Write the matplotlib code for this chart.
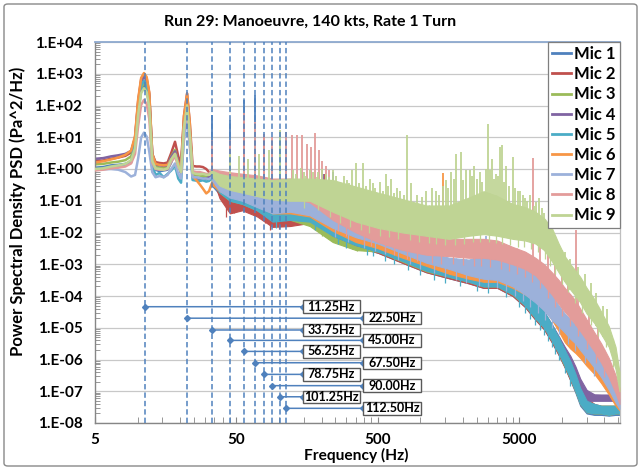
import numpy as np
import matplotlib
matplotlib.use('Agg')
import matplotlib.pyplot as plt
from matplotlib.lines import Line2D
from matplotlib.patches import Rectangle, FancyBboxPatch
import matplotlib.transforms as mtransforms
from matplotlib.ticker import FixedLocator, FuncFormatter, NullFormatter

plt.rcParams['font.family'] = ['Lato', 'DejaVu Sans']
plt.rcParams['font.weight'] = 'bold'

# ---------------- data ----------------
MIC_NAMES = ['Mic 1', 'Mic 2', 'Mic 3', 'Mic 4', 'Mic 5', 'Mic 6', 'Mic 7', 'Mic 8', 'Mic 9']
COLORS = ['#4F81BD', '#C0504D', '#9BBB59', '#8064A2', '#4BACC6', '#F79646', '#9CB1DA', '#E39C9A', '#BFD494']

# low-frequency (smooth) part of each spectrum
LF_F = [5, 5.7, 6.5, 7.3, 8.2, 9.0, 9.6, 10.1, 10.6, 11.1, 11.6, 12.1, 12.7, 13.4, 14.3, 15.3,
        16.3, 17.3, 18.4, 19.4, 20.3, 21.3, 22.4, 23.4, 24.5, 26, 27.5, 29, 30.6, 32, 33.5]
mic1_lf = [1.10, 1.15, 1.30, 1.35, 1.45, 1.7, 5, 63, 290, 420, 315, 105, 2.0, 0.95, 0.85, 0.9,
           0.95, 1.6, 3.2, 1.4, 0.7, 24, 120, 14, 0.6, 0.55, 0.5, 0.52, 0.48, 0.45, 0.6]
mic2_lf = [1.75, 1.85, 2.1, 2.3, 2.6, 3.3, 10, 140, 660, 950, 710, 240, 3.0, 1.65, 1.55, 1.5,
           1.6, 3.2, 7.2, 2.5, 1.5, 48, 240, 29, 1.25, 1.2, 1.2, 1.15, 1.0, 0.8, 0.7]
mic3_lf = [1.4, 1.45, 1.6, 1.7, 1.9, 2.5, 6, 78, 360, 520, 390, 130, 2.2, 1.2, 1.1, 1.05,
           1.2, 2.5, 4.0, 1.6, 0.9, 26, 130, 16, 0.7, 0.65, 0.62, 0.6, 0.58, 0.55, 0.6]
mic4_lf = [2.1, 2.2, 2.5, 2.7, 3.0, 3.7, 9, 120, 560, 800, 600, 200, 3.0, 1.4, 1.3, 1.25,
           1.3, 2.4, 3.6, 1.8, 1.0, 32, 160, 19, 0.55, 0.5, 0.5, 0.48, 0.5, 0.55, 0.6]
mic5_lf = [1.0, 1.05, 1.15, 1.2, 1.3, 1.6, 6, 90, 420, 600, 450, 150, 1.3, 0.65, 0.75, 0.55,
           0.7, 0.9, 1.3, 0.5, 0.37, 12, 60, 7, 0.45, 0.43, 0.42, 0.44, 0.4, 0.42, 0.5]
mic6_lf = [1.6, 1.75, 2.0, 2.3, 2.8, 3.8, 11, 160, 740, 1050, 790, 260, 3.0, 1.45, 1.35, 1.3,
           1.35, 2.0, 3.0, 1.6, 1.0, 46, 230, 28, 0.6, 0.45, 0.33, 0.24, 0.17, 0.2, 0.35]
mic7_lf = [0.95, 0.98, 1.0, 0.95, 0.8, 0.58, 0.65, 2.2, 9.8, 14, 10.5, 3.5, 0.8, 0.55, 0.6, 0.55,
           0.65, 1.0, 1.5, 0.7, 0.5, 8, 40, 5, 0.55, 0.55, 0.52, 0.5, 0.5, 0.48, 0.55]
mic8_lf = [0.9, 0.95, 1.05, 1.1, 1.2, 1.5, 3.0, 23, 105, 150, 112, 38, 1.6, 1.0, 0.95, 0.95,
           1.0, 1.7, 2.5, 1.2, 0.8, 18, 90, 11, 0.85, 0.8, 0.8, 0.75, 0.7, 0.7, 0.9]
mic9_lf = [1.0, 1.05, 1.2, 1.3, 1.45, 1.9, 4.5, 52, 245, 350, 262, 88, 1.8, 1.05, 1.0, 0.95,
           1.05, 2.0, 3.0, 1.3, 0.8, 20, 100, 12, 0.75, 0.7, 0.68, 0.7, 0.66, 0.65, 0.8]

# noisy part: lower / upper envelope of each spectrum
BAND_F = [33.5, 38, 45, 55, 70, 90, 120, 165, 240, 350, 500, 750, 1100, 1600, 2200, 2800, 3500,
          4500, 5500, 6500, 7500, 8500, 9500, 10500, 11500, 12500, 13500, 15000, 17000, 19000,
          21500, 24000, 25600]
mic1_lo = [0.3, 0.16, 0.09, 0.07, 0.045, 0.018, 0.02, 0.02, 7e-3, 3.6e-3, 2.3e-3, 1.1e-3, 5.6e-4,
           3.6e-4, 2.5e-4, 1.8e-4, 1.8e-4, 1.0e-4, 4.5e-5, 1.8e-5, 8.9e-6, 3.5e-6, 1.4e-6, 5.6e-7,
           2.2e-7, 8.9e-8, 3.5e-8, 2.0e-8, 1.8e-8, 1.8e-8, 1.7e-8, 1.8e-8, 1.8e-8]
mic1_hi = [0.5, 0.4, 0.3, 0.22, 0.14, 0.08, 0.08, 0.065, 0.022, 0.01, 5.6e-3, 2.8e-3, 1.4e-3,
           9e-4, 5.6e-4, 4e-4, 4e-4, 2.5e-4, 1.26e-4, 5.6e-5, 2.8e-5, 1.12e-5, 4.5e-6, 1.8e-6,
           7.9e-7, 3.2e-7, 1.12e-7, 4.5e-8, 3.5e-8, 3.2e-8, 3.2e-8, 3.2e-8, 3.2e-8]
mic2_lo = [0.6, 0.12, 0.04, 0.05, 0.032, 0.015, 0.016, 0.02, 7e-3, 3.6e-3, 2.3e-3, 1.1e-3, 5.6e-4,
           3.6e-4, 2.5e-4, 1.8e-4, 1.8e-4, 1.0e-4, 4.5e-5, 1.8e-5, 8.9e-6, 3.5e-6, 1.4e-6, 5.6e-7,
           2.2e-7, 1.0e-7, 4.0e-8, 2.2e-8, 2.0e-8, 2.0e-8, 1.8e-8, 2.0e-8, 2.0e-8]
mic2_hi = [0.8, 0.5, 0.25, 0.2, 0.13, 0.08, 0.08, 0.065, 0.022, 0.01, 5.6e-3, 2.8e-3, 1.4e-3,
           9e-4, 5.6e-4, 4e-4, 4e-4, 2.5e-4, 1.26e-4, 5.6e-5, 2.8e-5, 1.12e-5, 4.5e-6, 1.8e-6,
           1.0e-6, 5e-7, 2e-7, 6e-8, 4e-8, 3.5e-8, 3.5e-8, 3.5e-8, 3.5e-8]
mic3_lo = [0.4, 0.18, 0.1, 0.08, 0.05, 0.025, 0.025, 0.016, 5e-3, 2.8e-3, 2.5e-3, 1.2e-3, 6e-4,
           4e-4, 2.8e-4, 2e-4, 2e-4, 1.1e-4, 5e-5, 2e-5, 1e-5, 4e-6, 1.6e-6, 6e-7, 2.5e-7, 1e-7,
           4e-8, 2.2e-8, 2e-8, 2e-8, 1.8e-8, 2e-8, 2e-8]
mic3_hi = [0.6, 0.45, 0.35, 0.28, 0.18, 0.1, 0.09, 0.06, 0.02, 9e-3, 6e-3, 3e-3, 1.5e-3, 9e-4,
           6e-4, 4.2e-4, 4.2e-4, 2.6e-4, 1.3e-4, 6e-5, 3e-5, 1.2e-5, 4.5e-6, 1.8e-6, 8e-7, 3.2e-7,
           1.2e-7, 4.5e-8, 3.8e-8, 3.5e-8, 3.5e-8, 3.5e-8, 3.5e-8]
mic4_lo = [0.5, 0.3, 0.2, 0.15, 0.08, 0.03, 0.03, 0.025, 8e-3, 4e-3, 2.6e-3, 1.3e-3, 6.5e-4,
           4.2e-4, 3e-4, 2.1e-4, 2.1e-4, 1.2e-4, 5.5e-5, 2.2e-5, 1.1e-5, 4.5e-6, 1.8e-6, 7e-7,
           3e-7, 1.4e-7, 7e-8, 5e-8, 5e-8, 5e-8, 5e-8, 5e-8, 4.5e-8]
mic4_hi = [0.7, 0.63, 0.6, 0.5, 0.3, 0.14, 0.1, 0.08, 0.025, 0.011, 6.3e-3, 3.2e-3, 1.6e-3, 1e-3,
           6.3e-4, 4.5e-4, 4.5e-4, 2.8e-4, 1.4e-4, 6.3e-5, 3.2e-5, 1.3e-5, 5.5e-6, 2.5e-6, 1.3e-6,
           6e-7, 2.5e-7, 1.1e-7, 8e-8, 7.9e-8, 7.9e-8, 7e-8, 6.3e-8]
mic5_lo = [0.35, 0.18, 0.1, 0.079, 0.05, 0.022, 0.025, 0.022, 7.9e-3, 4.0e-3, 2.5e-3, 1.26e-3,
           6.3e-4, 4.0e-4, 2.8e-4, 2.0e-4, 2.0e-4, 1.12e-4, 5.0e-5, 2.0e-5, 1.0e-5, 4.0e-6,
           1.6e-6, 6.3e-7, 2.5e-7, 1.0e-7, 4.0e-8, 2.2e-8, 2.0e-8, 2.0e-8, 1.8e-8, 2.0e-8, 2.0e-8]
mic5_hi = [0.5, 0.45, 0.32, 0.25, 0.16, 0.089, 0.089, 0.071, 0.025, 0.0112, 6.3e-3, 3.2e-3,
           1.6e-3, 1.0e-3, 6.3e-4, 4.5e-4, 4.5e-4, 2.8e-4, 1.4e-4, 6.3e-5, 3.2e-5, 1.26e-5,
           5.0e-6, 2.0e-6, 8.9e-7, 3.5e-7, 1.26e-7, 5.0e-8, 4.0e-8, 3.5e-8, 3.5e-8, 3.5e-8, 3.5e-8]
mic6_lo = [0.32, 0.2, 0.15, 0.12, 0.071, 0.04, 0.04, 0.032, 0.0112, 5e-3, 3.2e-3, 1.6e-3, 8.9e-4,
           5e-4, 3.5e-4, 2.8e-4, 2.8e-4, 1.8e-4, 1.12e-4, 7.1e-5, 4e-5, 1.8e-5, 7.9e-6, 3.5e-6,
           2.2e-6, 1.6e-6, 1.12e-6, 6.3e-7, 3.5e-7, 1.8e-7, 7.9e-8, 3.5e-8, 2.5e-8]
mic6_hi = [0.45, 0.5, 0.55, 0.45, 0.3, 0.16, 0.126, 0.089, 0.032, 0.014, 7.9e-3, 4e-3, 2e-3,
           1.26e-3, 7.9e-4, 6.3e-4, 6.3e-4, 4.5e-4, 2.5e-4, 1.6e-4, 1e-4, 4.5e-5, 2e-5, 8.9e-6,
           5e-6, 3.5e-6, 2.5e-6, 1.4e-6, 7.9e-7, 4e-7, 1.8e-7, 7.9e-8, 5e-8]
mic7_lo = [0.45, 0.2, 0.126, 0.1, 0.063, 0.04, 0.045, 0.035, 0.014, 7.1e-3, 4.5e-3, 2.2e-3,
           1.12e-3, 7.1e-4, 4.5e-4, 3.5e-4, 3.2e-4, 2e-4, 1.12e-4, 6.3e-5, 3.5e-5, 1.8e-5,
           1.12e-5, 7.1e-6, 4.5e-6, 3.2e-6, 2e-6, 1.12e-6, 5.6e-7, 2.8e-7, 1.12e-7, 4.5e-8, 2.8e-8]
mic7_hi = [0.63, 0.5, 0.4, 0.32, 0.25, 0.14, 0.14, 0.1, 0.035, 0.018, 0.0112, 5e-3, 2.5e-3,
           1.6e-3, 1.4e-3, 2e-3, 1.6e-3, 1.12e-3, 7.1e-4, 4.5e-4, 2.2e-4, 1.12e-4, 5e-5, 2.8e-5,
           1.8e-5, 1.26e-5, 7.9e-6, 4e-6, 1.8e-6, 7.9e-7, 3.2e-7, 1.12e-7, 5.6e-8]
mic8_lo = [0.71, 0.35, 0.25, 0.22, 0.18, 0.14, 0.126, 0.089, 0.025, 0.01, 5e-3, 2.8e-3, 2e-3,
           1.8e-3, 1.6e-3, 1.6e-3, 1.4e-3, 1e-3, 7.1e-4, 4.5e-4, 2.2e-4, 1.12e-4, 5.6e-5, 3.2e-5,
           2e-5, 1.26e-5, 7.9e-6, 4e-6, 1.8e-6, 7.9e-7, 2.8e-7, 8.9e-8, 4e-8]
mic8_hi = [1.0, 0.89, 0.79, 0.71, 0.63, 0.5, 0.5, 0.32, 0.1, 0.045, 0.02, 0.0112, 7.9e-3, 6.3e-3,
           6.3e-3, 6.3e-3, 5.6e-3, 3.5e-3, 2.5e-3, 1.6e-3, 1e-3, 5.6e-4, 3.2e-4, 1.8e-4, 1.12e-4,
           7.1e-5, 4e-5, 1.8e-5, 7.1e-6, 3.2e-6, 1.12e-6, 3.2e-7, 1.26e-7]
mic9_lo = [0.6, 0.3, 0.22, 0.18, 0.14, 0.11, 0.1, 0.1, 0.045, 0.022, 0.014, 0.01, 7.9e-3,
           6.3e-3, 7.9e-3, 8.9e-3, 7.9e-3, 6.3e-3, 5.6e-3, 4.5e-3, 2.8e-3, 1.26e-3, 5.6e-4, 2.8e-4,
           1.6e-4, 1e-4, 6.3e-5, 2.8e-5, 1.4e-5, 6.3e-6, 2.5e-6, 5e-7, 1e-7]
mic9_hi = [0.9, 0.7, 0.6, 0.55, 0.5, 0.45, 0.5, 0.5, 0.45, 0.28, 0.18, 0.112, 0.071, 0.071,
           0.126, 0.2, 0.14, 0.079, 0.063, 0.045, 0.028, 0.014, 4.5e-3, 1.8e-3, 1e-3, 6.3e-4, 4e-4,
           1.8e-4, 7.9e-5, 3.2e-5, 1.12e-5, 2.5e-6, 4e-7]

# narrow tonal peaks (frequency, peak PSD) per microphone
mic1_pk_f = [33.75, 45, 56.25, 67.5, 90, 112.5, 240]
mic1_pk_v = [50, 35, 150, 215, 5, 10, 0.8]
mic2_pk_f = [33.75, 56.25, 78.75, 210]
mic2_pk_v = [3, 30, 10, 0.7]
mic3_pk_f = [33.75, 45]
mic3_pk_v = [2, 1.5]
mic4_pk_f = [205]
mic4_pk_v = [0.7]
mic5_pk_f = [67.5, 101.25]
mic5_pk_v = [20, 12]
mic6_pk_f = [165, 1450]
mic6_pk_v = [0.5, 0.75]
mic7_pk_f = [420, 430, 440, 2700, 2900, 3100]
mic7_pk_v = [0.1, 0.16, 0.12, 6e-3, 8e-3, 5e-3]
mic8_pk_f = [33.75, 45, 56.25, 67.5, 78.75, 90, 112.5, 123.75, 135, 146.25, 157.5, 168.75, 180,
             191.25, 202.5, 213.75, 225, 260, 300, 6250, 7000, 8000, 9000, 10000, 11000, 12660,
             13000, 15500, 18000]
mic8_pk_v = [8, 8, 60, 30, 13, 10, 15, 12, 12, 12, 6, 5, 14, 4, 1.8, 1.2, 0.9, 0.3, 0.15, 2.3,
             6e-3, 3e-3, 1.5e-3, 8e-4, 5e-4, 0.012, 2e-4, 8e-5, 3e-5]
mic9_pk_f = [45, 52, 60, 72, 85, 101.25, 125, 132, 142, 150, 155, 165, 175, 185, 190, 200, 215,
             225, 240, 255, 270, 290, 305, 315, 330, 350, 370, 394, 410, 440, 460, 480, 520, 545,
             570, 590, 620, 650, 680, 720, 760, 800, 860, 950, 1020, 1100, 1200, 1290, 1350, 1450,
             1530, 1580, 1650, 1720, 1800, 1950, 2000, 2100, 2235, 2300, 2400, 2500, 2650, 2750,
             2900, 3010, 3100, 3200, 3300, 3400, 3550, 3650, 3770, 3900, 4000, 4200, 4500, 4700,
             4900, 5100, 5300, 5500, 5700, 6000, 6400, 6600, 6900, 7200, 7500, 7940, 8200, 8800,
             9500, 10500, 11500, 13000, 14500, 16000, 17500, 19600, 21000]
mic9_pk_v = [3, 2.5, 2, 3, 4, 17, 0.9, 0.7, 1.1, 0.8, 0.6, 0.9, 0.8, 0.55, 0.8, 1.0, 0.7, 0.55,
             0.9, 0.6, 0.4, 0.6, 0.45, 0.35, 0.9, 1.6, 0.35, 1.5, 0.3, 0.5, 0.35, 0.25, 0.4, 0.2,
             0.7, 0.3, 0.5, 0.18, 0.25, 0.2, 0.15, 12, 0.35, 0.15, 0.13, 0.2, 0.25, 0.2, 0.15, 0.3,
             0.45, 0.25, 0.8, 0.5, 3.0, 3.4, 0.45, 0.9, 0.9, 0.6, 1.2, 0.5, 0.8, 0.4, 1.0, 27, 0.9,
             2.0, 0.5, 0.7, 0.6, 4.9, 5.5, 0.4, 1.2, 0.3, 2.4, 0.25, 0.2, 0.2, 0.15, 0.12, 0.1,
             0.15, 0.07, 0.09, 0.12, 0.06, 0.04, 0.02, 0.015, 8e-3, 4e-3, 2.5e-3, 1.5e-3, 8e-4,
             5e-4, 2.5e-4, 1.2e-4, 5e-5, 4e-5]

# downward excursions below the lower envelope
mic2_dip_f = [42, 48, 80, 86, 100]
mic2_dip_v = [0.03, 0.04, 0.02, 0.012, 0.013]
mic3_dip_f = [200, 215, 330, 355, 380]
mic3_dip_v = [8e-3, 7e-3, 3e-3, 2.6e-3, 2.8e-3]
mic5_dip_f = [95, 180, 260, 300, 420, 460, 560, 650, 820, 1000, 1250, 1500, 1900, 2500, 3000,
              4000, 5000, 5500, 6000, 6500, 7000, 7500, 8000, 8500, 9000, 9500, 10500, 11500]
mic5_dip_v = [0.014, 0.012, 4.5e-3, 3.3e-3, 2e-3, 1.8e-3, 1.3e-3, 1e-3, 6.6e-4, 4.5e-4, 3.3e-4,
              2.6e-4, 2e-4, 1.4e-4, 1.2e-4, 9e-5, 4.5e-5, 3e-5, 1.9e-5, 1.2e-5, 8.5e-6, 6e-6,
              3.8e-6, 2.4e-6, 1.5e-6, 9.6e-7, 3.8e-7, 1.5e-7]
mic7_dip_f = [250, 310, 400, 480, 560, 700, 850, 1000, 1250, 1500, 1800, 2100, 2600, 3000, 3500,
              4000, 4700, 5300, 6000, 6800, 7600, 8500, 9500, 11000, 12500, 14500, 17000]
mic7_dip_v = [7e-3, 5e-3, 3.3e-3, 2.6e-3, 2.1e-3, 1.4e-3, 1e-3, 7.2e-4, 5.2e-4, 4.1e-4, 3.3e-4,
              2.6e-4, 2.1e-4, 1.9e-4, 1.8e-4, 1.4e-4, 1e-4, 7e-5, 4.6e-5, 2.9e-5, 1.8e-5, 1e-5,
              6.2e-6, 3.1e-6, 1.8e-6, 7.7e-7, 3.1e-7]
mic8_dip_f = [260, 300, 400, 450, 560, 650, 800, 950, 1200, 1400, 1700, 2000, 2400, 2700, 3100,
              3700, 4200, 4800, 5500, 6200, 7000, 8000, 9000, 10000, 11500, 13000, 15000, 17500,
              20000]
mic8_dip_v = [0.011, 8e-3, 4.7e-3, 3.7e-3, 2.5e-3, 1.9e-3, 1.5e-3, 1.3e-3, 1.1e-3, 1e-3, 1e-3,
              9.4e-4, 8.8e-4, 8.8e-4, 8.3e-4, 7.2e-4, 6e-4, 5e-4, 3.9e-4, 2.8e-4, 1.8e-4, 8.8e-5,
              4.4e-5, 2.3e-5, 1.1e-5, 5.5e-6, 2.2e-6, 8e-7, 2.8e-7]
mic9_dip_f = [150, 190, 230, 270, 320, 380, 430, 520, 600, 700, 850, 980, 1150, 1300, 1500, 1750,
              2050, 2350, 2650, 3050, 3400, 3800, 4300, 4900, 5400, 6100, 6800, 7600, 8300, 9000,
              10000, 11000, 12500, 14000, 16000, 18000, 20500, 23000]
mic9_dip_v = [0.06, 0.05, 0.03, 0.02, 0.015, 0.012, 0.01, 8e-3, 7e-3, 6.3e-3, 5.6e-3, 5e-3,
              4.6e-3, 4.3e-3, 4e-3, 4e-3, 4.5e-3, 5e-3, 5.2e-3, 5e-3, 4.8e-3, 4.4e-3, 4e-3, 3.6e-3,
              3.4e-3, 3e-3, 2.4e-3, 1.5e-3, 8.5e-4, 5e-4, 2.4e-4, 1.3e-4, 6e-5, 3e-5, 1.2e-5,
              5.4e-6, 2.4e-6, 6e-7]

# harmonic markers
HARM_F = [11.25, 22.5, 33.75, 45.0, 56.25, 67.5, 78.75, 90.0, 101.25, 112.5]
HARM_LABELS = ['11.25Hz', '22.50Hz', '33.75Hz', '45.00Hz', '56.25Hz', '67.50Hz', '78.75Hz',
               '90.00Hz', '101.25Hz', '112.50Hz']
HARM_Y = [4.6e-5, 2.0e-5, 8.5e-6, 4.0e-6, 1.8e-6, 7.9e-7, 3.4e-7, 1.5e-7, 6.7e-8, 2.9e-8]

Y_TICKS = [1e-8, 1e-7, 1e-6, 1e-5, 1e-4, 1e-3, 1e-2, 1e-1, 1e0, 1e1, 1e2, 1e3, 1e4]
X_TICKS = [5, 50, 500, 5000]
X_TICK_LABELS = ['5', '50', '500', '5000']

LF = [mic1_lf, mic2_lf, mic3_lf, mic4_lf, mic5_lf, mic6_lf, mic7_lf, mic8_lf, mic9_lf]
LO = [mic1_lo, mic2_lo, mic3_lo, mic4_lo, mic5_lo, mic6_lo, mic7_lo, mic8_lo, mic9_lo]
HI = [mic1_hi, mic2_hi, mic3_hi, mic4_hi, mic5_hi, mic6_hi, mic7_hi, mic8_hi, mic9_hi]
PKF = [mic1_pk_f, mic2_pk_f, mic3_pk_f, mic4_pk_f, mic5_pk_f, mic6_pk_f, mic7_pk_f, mic8_pk_f, mic9_pk_f]
PKV = [mic1_pk_v, mic2_pk_v, mic3_pk_v, mic4_pk_v, mic5_pk_v, mic6_pk_v, mic7_pk_v, mic8_pk_v, mic9_pk_v]
DIPS = {1: (mic2_dip_f, mic2_dip_v), 2: (mic3_dip_f, mic3_dip_v), 4: (mic5_dip_f, mic5_dip_v),
        6: (mic7_dip_f, mic7_dip_v), 7: (mic8_dip_f, mic8_dip_v), 8: (mic9_dip_f, mic9_dip_v)}

# ---------------- figure ----------------
W, H = 641, 471
fig = plt.figure(figsize=(W / 100, H / 100), dpi=100)
fig.patch.set_facecolor('white')
ax = fig.add_axes([95 / W, 1 - 423 / H, (619.5 - 95) / W, (423 - 42) / H])
ax.set_xscale('log')
ax.set_yscale('log')
ax.set_xlim(5, 25600)
ax.set_ylim(1e-8, 1e4)


def env(freqs, xs, ys):
    return np.exp(np.interp(np.log(freqs), np.log(xs), np.log(ys)))


for i in range(9):
    c = COLORS[i]
    z = 2 + i * 0.1
    ax.plot(LF_F, LF[i], color=c, lw=1.8, zorder=z, solid_joinstyle='round')
    ax.fill_between(BAND_F, LO[i], HI[i], color=c, lw=0.8, zorder=z)
    xs = LF_F + BAND_F[1:]
    base = env(PKF[i], xs, LF[i] + LO[i][1:])
    ax.vlines(PKF[i], base, PKV[i], color=c, lw=1.3, zorder=z)
    if i in DIPS:
        df, dv = DIPS[i]
        top = env(df, xs, LF[i] + HI[i][1:])
        ax.vlines(df, dv, top, color=c, lw=0.9, zorder=z)

# harmonic dashed lines
for f in HARM_F:
    ax.axvline(f, color='#4F81BD', lw=1.1, ls=(0, (3.5, 2)), zorder=10)

# callouts
blend = mtransforms.blended_transform_factory(ax.transAxes, ax.transData)
box_w = 57.5 / 524.5
box_h = 12.5 / 381
for k, (f, v, lab) in enumerate(zip(HARM_F, HARM_Y, HARM_LABELS)):
    bx = 0.3957 if k % 2 == 0 else 0.5115
    ax.annotate('', xy=(f, v), xycoords='data', xytext=(bx, v), textcoords=blend,
                arrowprops=dict(arrowstyle='-', color='#4F81BD', lw=1.1, shrinkA=0, shrinkB=0),
                zorder=11)
    ax.plot([f], [v], marker='D', ms=3, color='#4F81BD', zorder=12)
    ax.plot([bx], [v], marker='D', ms=3, color='#4F81BD', zorder=12, transform=blend)
    yf = ax.transAxes.inverted().transform(ax.transData.transform((1, v)))[1]
    ax.add_patch(Rectangle((bx, yf - box_h / 2), box_w, box_h, transform=ax.transAxes,
                           facecolor='white', edgecolor='#595959', lw=1.0, zorder=13))
    ax.text(bx + box_w / 2, yf, lab, transform=ax.transAxes, ha='center', va='center',
            fontsize=9, fontweight='bold', color='black', zorder=14)

# axes styling
ax.yaxis.set_major_locator(FixedLocator(Y_TICKS))
ax.yaxis.set_major_formatter(FuncFormatter(lambda v, p: '1.E%+03d' % int(round(np.log10(v)))))
ax.yaxis.set_minor_locator(FixedLocator([m * t for t in Y_TICKS[:-1] for m in range(2, 10)]))
ax.yaxis.set_minor_formatter(NullFormatter())
ax.xaxis.set_major_locator(FixedLocator(X_TICKS))
ax.set_xticklabels(X_TICK_LABELS)
ax.xaxis.set_minor_locator(FixedLocator([m * t for t in [5, 50, 500, 5000] for m in range(2, 10)
                                         if m * t <= 25600]))
ax.xaxis.set_minor_formatter(NullFormatter())
ax.tick_params(axis='both', which='both', direction='in', color='#868686')
ax.tick_params(axis='x', which='both', length=4, labelsize=11, pad=7)
ax.tick_params(axis='y', which='major', length=0, labelsize=11, pad=9)
ax.tick_params(axis='y', which='minor', length=3.5)
ax.grid(axis='y', which='major', color='#C8C8C8', lw=0.9)
ax.set_axisbelow(True)
for s in ['left', 'bottom']:
    ax.spines[s].set_color('#868686')
    ax.spines[s].set_linewidth(1.0)
ax.spines['top'].set_color('#8EA9CF')
ax.spines['top'].set_linewidth(1.3)
ax.spines['right'].set_color('#BFBFBF')
ax.spines['right'].set_linewidth(0.9)

# legend
handles = [Line2D([0], [0], color=c, lw=2) for c in COLORS]
leg = ax.legend(handles, MIC_NAMES, loc='upper right', bbox_to_anchor=(1.0, 1.0),
                borderaxespad=0, frameon=True, fancybox=False, framealpha=1,
                edgecolor='#7F7F7F', handlelength=1.15, handletextpad=0.15, labelspacing=0.25,
                borderpad=0.25, prop={'size': 12, 'weight': 'bold'})
leg.get_frame().set_linewidth(0.9)
leg.set_zorder(20)

# texts
fig.text(310 / W, 1 - 22 / H, 'Run 29: Manoeuvre, 140 kts, Rate 1 Turn', ha='center', va='center',
         fontsize=11.5, fontweight='bold')
fig.text(18 / W, 1 - 211 / H, 'Power Spectral Density PSD (Pa^2/Hz)', rotation=90, ha='center',
         va='center', fontsize=12, fontweight='bold')
fig.text(356 / W, 1 - 455 / H, 'Frequency (Hz)', ha='center', va='center', fontsize=11.2,
         fontweight='bold')

fig.patches.append(FancyBboxPatch((4 / W, 5 / H), 633 / W, 462 / H,
                                  boxstyle='round,pad=0,rounding_size=0.006',
                                  transform=fig.transFigure, fill=False, ec='#898989', lw=1.0))

fig.savefig('out.png', dpi=100)
